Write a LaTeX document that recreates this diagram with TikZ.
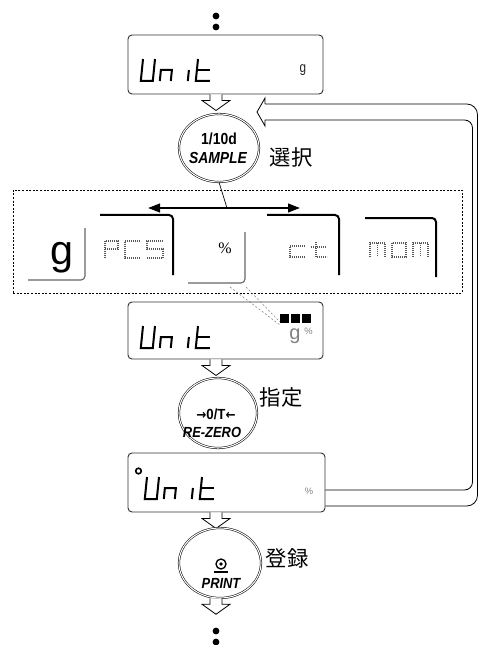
\documentclass[tikz,border=0pt]{standalone}
\usepackage{graphicx}
\usepackage{fontspec}
\setmainfont{Liberation Sans}
\newfontfamily\jp{Noto Sans CJK JP}
\newfontfamily\serifx{Liberation Serif}
\newfontfamily\dvs{DejaVu Sans}
\usetikzlibrary{shapes.geometric,arrows.meta}
\newcommand\lcdunit[2]{%
  \begin{scope}[shift={(#1,#2)}, xslant=0.1]
    \draw[lcd] (0,0) -- (0,22) -- (12,22) -- (12,0);
    \draw[lcd] (19,22) -- (19,11) -- (30,11) -- (30,22);
    \draw[lcd] (47,11) -- (47,22);
    \draw[lcd] (55,0) -- (55,22) -- (69,22);
    \draw[lcd] (55,11) -- (68,11);
  \end{scope}}
\begin{document}
\begin{tikzpicture}[x=0.75pt,y=-0.75pt,
  lcd/.style={line width=1.5pt},
  dbox/.style={draw=black!80, line width=0.7pt, rounded corners=3pt, inner sep=0pt,
    minimum width=146.25pt, minimum height=44.25pt},
  keyel/.style={ellipse, draw, double, double distance=0.8pt, line width=0.4pt, inner sep=0pt},
  keytxt/.style={font=\bfseries\fontsize{12}{12}\selectfont, inner sep=0pt},
  keytxts/.style={font=\bfseries\fontsize{11}{11}\selectfont, inner sep=0pt},
  tabon/.style={line width=1.5pt, rounded corners=3pt},
  taboff/.style={draw=black!60, line width=0.8pt, rounded corners=3pt},
  dotl/.style={line width=1pt, dash pattern=on 0.7pt off 0.8pt, draw=black!65},
  jplabel/.style={font=\jp\fontsize{16}{16}\selectfont, inner sep=0pt},
  hdown/.pic={\draw[line width=0.6pt, fill=white] (-6,0) -- (-6,6) -- (-14,6) -- (0,16) -- (14,6) -- (6,6) -- (6,0);}
]
\useasboundingbox (0,0) rectangle (478,645);

% dots top
\fill (216,16) circle (3.4);
\fill (216,27) circle (3.4);

% display boxes
\node[dbox] (box1) at (225.5,64.5) {};
\node[dbox, minimum height=42.75pt] (box2) at (225.5,330.5) {};
\node[dbox, minimum width=147.75pt] (box3) at (226.5,482.5) {};

\lcdunit{143}{59}
\lcdunit{143}{326}
\lcdunit{147}{477}
\draw[line width=1.2pt] (138.5,471) circle (2.8);

\node[font=\fontsize{11}{11}\selectfont, text=black!85, inner sep=0pt] (g1) at (303,70) {\scalebox{0.8}[1]{g}};

% box2 indicators
\fill (280,314) rectangle (289,323);
\fill (291,314) rectangle (300,323);
\fill (302,314) rectangle (311,323);
\node[anchor=base west, text=black!50, font=\fontsize{15}{15}\selectfont, inner sep=0pt] (g2) at (289,339) {g};
\node[anchor=north west, text=black!50, font=\fontsize{7}{7}\selectfont, inner sep=0pt] (p2) at (304,328) {\%};
\node[text=black!50, font=\fontsize{7}{7}\selectfont, inner sep=0pt] (p3) at (309,491) {\%};

% hollow arrows
\pic at (216,0 |- box1.south) {hdown};
\pic at (216,0 |- box2.south) {hdown};
\pic at (216,0 |- box3.south) {hdown};

% keys
\node[keyel, minimum width=60pt, minimum height=51pt] (key1) at (219,148) {};
\node[keytxt] (k1a) at (219,139) {\scalebox{0.87}[1]{1/10d}};
\node[keytxt] (k1b) at (218,158) {\scalebox{0.87}[1]{\itshape SAMPLE}};
\node[jplabel] (l1) at (291,157) {選択};

\node[keyel, minimum width=58.5pt, minimum height=52.5pt] (key2) at (218,413) {};
\node[keytxts] (k2a) at (216,414) {\scalebox{0.9}[1]{{\dvs\bfseries\fontsize{10}{10}\selectfont →}0/T{\dvs\bfseries\fontsize{10}{10}\selectfont ←}}};
\node[keytxts] (k2b) at (212,432) {\scalebox{0.88}[1]{\itshape RE-ZERO}};
\node[jplabel] (l2) at (281,397) {指定};

\node[keyel, minimum width=61.5pt, minimum height=52.5pt] (key3) at (220,563) {};
\draw[line width=1pt] (221,564) circle (5);
\fill (221,564) circle (1.8);
\draw[line width=1pt] (214,572) -- (228,572);
\node[keytxts] (k3b) at (221,583) {\scalebox{0.88}[1]{\itshape PRINT}};
\node[jplabel] (l3) at (287,558) {登録};

\pic at (216,0 |- key3.south) {hdown};
\fill (216,631) circle (3.4);
\fill (216,642) circle (3.4);

% selection area
\node[draw, dash pattern=on 1.5pt off 1.2pt, line width=0.5pt, minimum width=336.75pt,
  minimum height=77.25pt, inner sep=0pt] (sel) at (237.5,241.5) {};
\coordinate (aL) at (148,208);
\coordinate (aR) at (300,208);
\coordinate (aM) at (227,208);
\draw[line width=1.5pt, {Triangle[length=9pt,width=6.5pt]}-{Triangle[length=9pt,width=6.5pt]}] (aL) -- (aR);
\draw[line width=0.5pt] (key1.south) -- (aM);

% tabs
\draw[taboff] (28,280) -| (85,228);
\node[anchor=base, font=\fontsize{31}{31}\selectfont, inner sep=0pt] (tg) at (62,264) {g};
\draw[tabon] (100,215) -| (173,275);
\draw[dotl] (105,258) -- (105,241) -- (118,241) -- (118,249) -- (105,249);
\draw[dotl] (140,241) -- (125,241) -- (125,258) -- (140,258);
\draw[dotl] (163,241) -- (147,241) -- (147,249) -- (163,249) -- (163,258) -- (147,258);
\draw[taboff] (188,283) -| (245,232);
\node[font=\serifx\fontsize{12}{12}\selectfont, inner sep=0pt] (tpct) at (225,248) {\%};
\draw[tabon] (267,215) -| (339,275);
\draw[dotl] (305,246) -- (290,246) -- (290,257) -- (305,257);
\draw[dotl] (316,242) -- (316,257) -- (327,257);
\draw[dotl] (311,247) -- (326,247);
\draw[tabon] (365,218) -| (436,277);
\draw[dotl] (370,257) -- (370,243) -- (385,243) -- (385,257);
\draw[dotl] (377.5,243) -- (377.5,257);
\draw[dotl] (392,243) rectangle (406,257);
\draw[dotl] (413,257) -- (413,243) -- (428,243) -- (428,257);
\draw[dotl] (420.5,243) -- (420.5,257);

% dashed guide lines
\draw[black!50, line width=0.4pt, dash pattern=on 1.5pt off 1.5pt] (230,287) -- (280,325);
\draw[black!50, line width=0.4pt, dash pattern=on 1.5pt off 1.5pt] (246,287) -- (280,322);

% loop-back hollow arrow
\draw[line width=0.6pt, rounded corners=8pt] (box3.east |- 0,506) -- (477.5,506) -- (477.5,104) -- (265,104);
\draw[line width=0.6pt, line join=miter] (265,104) -- (265,98) -- (257,112) -- (265,126) -- (265,120);
\draw[line width=0.6pt, rounded corners=6pt] (265,120) -- (472.5,120) -- (472.5,490) -- (box3.east |- 0,490);
\end{tikzpicture}
\end{document}
